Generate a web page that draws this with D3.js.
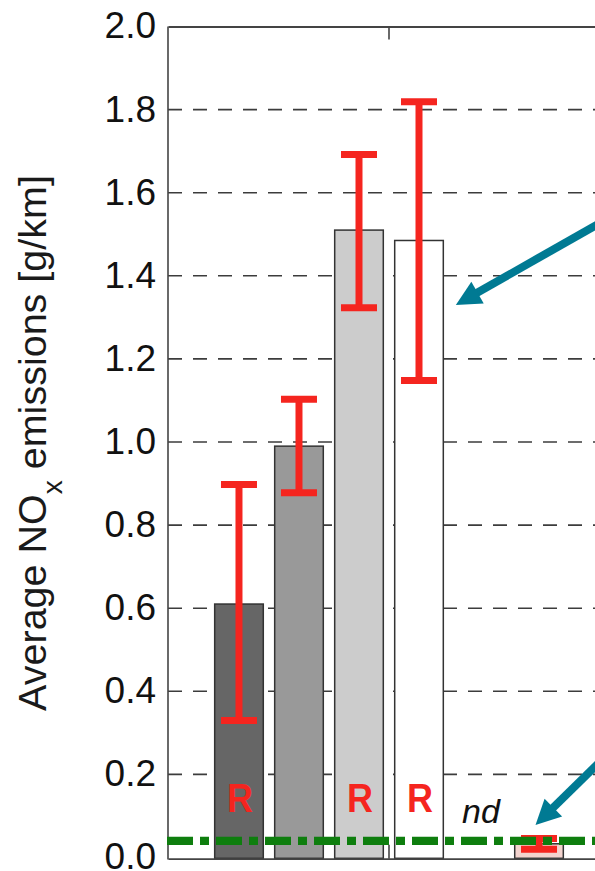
<!DOCTYPE html>
<html>
<head>
<meta charset="utf-8">
<script src="https://cdn.jsdelivr.net/npm/d3@7"></script>
<style>
  html, body { margin: 0; padding: 0; background: #fff; }
  svg { display: block; font-family: "Liberation Sans", Arial, Helvetica, sans-serif; }
</style>
</head>
<body>
<svg id="chart" width="595" height="871"></svg>
<script>
// ---- data ----
const categories = ["G1"];
const series = ["S1", "S2", "S3", "S4", "S5", "S6"];
const values = [0.61, 0.99, 1.51, 1.485, null, 0.033];
const errLow = [0.33, 0.878, 1.323, 1.148, null, 0.02];
const errHigh = [0.898, 1.103, 1.692, 1.819, null, 0.046];
const barNotes = ["R", "", "R", "R", "nd", ""];
const yTicks = [0.0, 0.2, 0.4, 0.6, 0.8, 1.0, 1.2, 1.4, 1.6, 1.8, 2.0];
const limitValue = 0.04;
// arrows point at a bar (series) at a given value
const arrowSeries = ["S4", "S6"];
const arrowValues = [1.33, 0.078];

// ---- styles ----
const barFills = ["#666666", "#999999", "#cccccc", "#ffffff", "#ffffff", "#f3d3ce"];
const red = "#f5251f";
const teal = "#007a93";
const green = "#0e7e0e";

// ---- layout ----
const svg = d3.select("#chart");
const x0 = 168, x1 = 610, yTop = 26.5, yBot = 857.5;

const y = d3.scaleLinear().domain([0, 2]).range([yBot, yTop]);
const xCat = d3.scaleBand().domain(categories).range([x0, x1]);
const xSer = d3.scaleBand().domain(series).range([0, xCat.bandwidth()])
  .paddingInner(0.19).paddingOuter(0.778);
const color = d3.scaleOrdinal(series, barFills);

const bars = series.map((s, i) => ({
  s, v: values[i], lo: errLow[i], hi: errHigh[i], note: barNotes[i],
  x: xCat(categories[0]) + xSer(s)
}));

// gridlines
svg.append("g").selectAll("line")
  .data(yTicks.filter(d => d > 0 && d < 2))
  .join("line")
  .attr("x1", x0).attr("x2", 640)
  .attr("y1", d => y(d)).attr("y2", d => y(d))
  .attr("stroke", "#3c3c3c").attr("stroke-width", 1.6)
  .attr("stroke-dasharray", "14,11");

// bars
svg.append("g").selectAll("rect")
  .data(bars.filter(d => d.v != null))
  .join("rect")
  .attr("x", d => d.x).attr("width", xSer.bandwidth())
  .attr("y", d => y(d.v)).attr("height", d => yBot + 0.8 - y(d.v))
  .attr("fill", d => color(d.s))
  .attr("stroke", "#333").attr("stroke-width", 1.5);

// error bars
const capW = 36;
const eg = svg.append("g").attr("stroke", red).attr("stroke-width", 7);
bars.filter(d => d.lo != null).forEach(d => {
  const cx = d.x + xSer.bandwidth() / 2;
  eg.append("line").attr("x1", cx).attr("x2", cx).attr("y1", y(d.hi)).attr("y2", y(d.lo));
  eg.append("line").attr("x1", cx - capW / 2).attr("x2", cx + capW / 2).attr("y1", y(d.hi)).attr("y2", y(d.hi));
  eg.append("line").attr("x1", cx - capW / 2).attr("x2", cx + capW / 2).attr("y1", y(d.lo)).attr("y2", y(d.lo));
});

// bar notes
bars.filter(d => d.note === "R").forEach(d => {
  const cx = d.x + xSer.bandwidth() / 2 + 1;
  svg.append("text")
    .attr("transform", `translate(${cx},${y(0) - 46}) scale(1,1.12)`)
    .attr("text-anchor", "middle")
    .attr("font-size", 36).attr("font-weight", "bold")
    .attr("fill", red).text(d.note);
});
bars.filter(d => d.note === "nd").forEach(d => {
  const cx = d.x + xSer.bandwidth() / 2 + 2;
  svg.append("text")
    .attr("x", cx).attr("y", y(0) - 35)
    .attr("text-anchor", "middle")
    .attr("font-size", 34).attr("font-style", "italic")
    .attr("fill", "#111").text(d.note);
});

// axes frame: left, top, bottom
svg.append("line").attr("x1", x0).attr("x2", x0).attr("y1", yTop).attr("y2", yBot + 2)
  .attr("stroke", "#444").attr("stroke-width", 1.6);

const topAxis = svg.append("g").attr("transform", `translate(0,${yTop})`)
  .call(d3.axisTop(xCat).tickSize(-13).tickSizeOuter(0).tickFormat(""));
const botAxis = svg.append("g").attr("transform", `translate(0,${yBot + 1.2})`)
  .call(d3.axisBottom(xCat).tickSize(-14).tickSizeOuter(0).tickFormat(""));
[topAxis, botAxis].forEach(g => {
  g.select(".domain").attr("stroke", "#444").attr("stroke-width", 1.8);
  g.selectAll(".tick line").attr("stroke", "#444").attr("stroke-width", 1.6);
});

// y tick labels
svg.append("g")
  .attr("transform", `translate(${x0},0)`)
  .call(d3.axisLeft(y).tickValues(yTicks).tickSize(0).tickPadding(12).tickFormat(d3.format(".1f")))
  .call(g => g.select(".domain").remove())
  .call(g => g.selectAll("text")
    .attr("font-family", '"Liberation Sans", Arial, sans-serif')
    .attr("font-size", 37).attr("fill", "#111").attr("dy", "0.31em"));

// y axis title
const title = svg.append("text")
  .attr("transform", `translate(45.5,${(yTop + yBot) / 2 + 1}) rotate(-90)`)
  .attr("text-anchor", "middle")
  .attr("font-size", 39.5).attr("fill", "#1a1a1a");
title.append("tspan").text("Average NO");
title.append("tspan").attr("font-size", 28).attr("dy", 16).text("x");
title.append("tspan").attr("dy", -16).text(" emissions [g/km]");

// limit line
svg.append("line")
  .attr("x1", x0 - 1).attr("x2", 640)
  .attr("y1", y(limitValue)).attr("y2", y(limitValue))
  .attr("stroke", green).attr("stroke-width", 8.3)
  .attr("stroke-dasharray", "26,7,9,7");

// arrows
const arrowAngles = [-29.6, -44.5];
arrowSeries.forEach((s, i) => {
  const b = xCat(categories[0]) + xSer(s);
  const tip = i === 0
    ? [b + xSer.bandwidth() + 12.5, y(arrowValues[i])]
    : [b + xSer.bandwidth() / 2 - 3.5, y(arrowValues[i])];
  const a = arrowAngles[i] * Math.PI / 180;
  const dir = [Math.cos(a), Math.sin(a)];
  const nrm = [-dir[1], dir[0]];
  const headL = 25, headW = 12.5;
  const base = [tip[0] + dir[0] * headL, tip[1] + dir[1] * headL];
  svg.append("line")
    .attr("x1", base[0] - dir[0] * 2).attr("y1", base[1] - dir[1] * 2)
    .attr("x2", tip[0] + dir[0] * 400).attr("y2", tip[1] + dir[1] * 400)
    .attr("stroke", teal).attr("stroke-width", 8);
  svg.append("polygon")
    .attr("points", [
      tip,
      [base[0] + nrm[0] * headW, base[1] + nrm[1] * headW],
      [base[0] - nrm[0] * headW, base[1] - nrm[1] * headW]
    ].map(p => p.join(",")).join(" "))
    .attr("fill", teal);
});
</script>
</body>
</html>
